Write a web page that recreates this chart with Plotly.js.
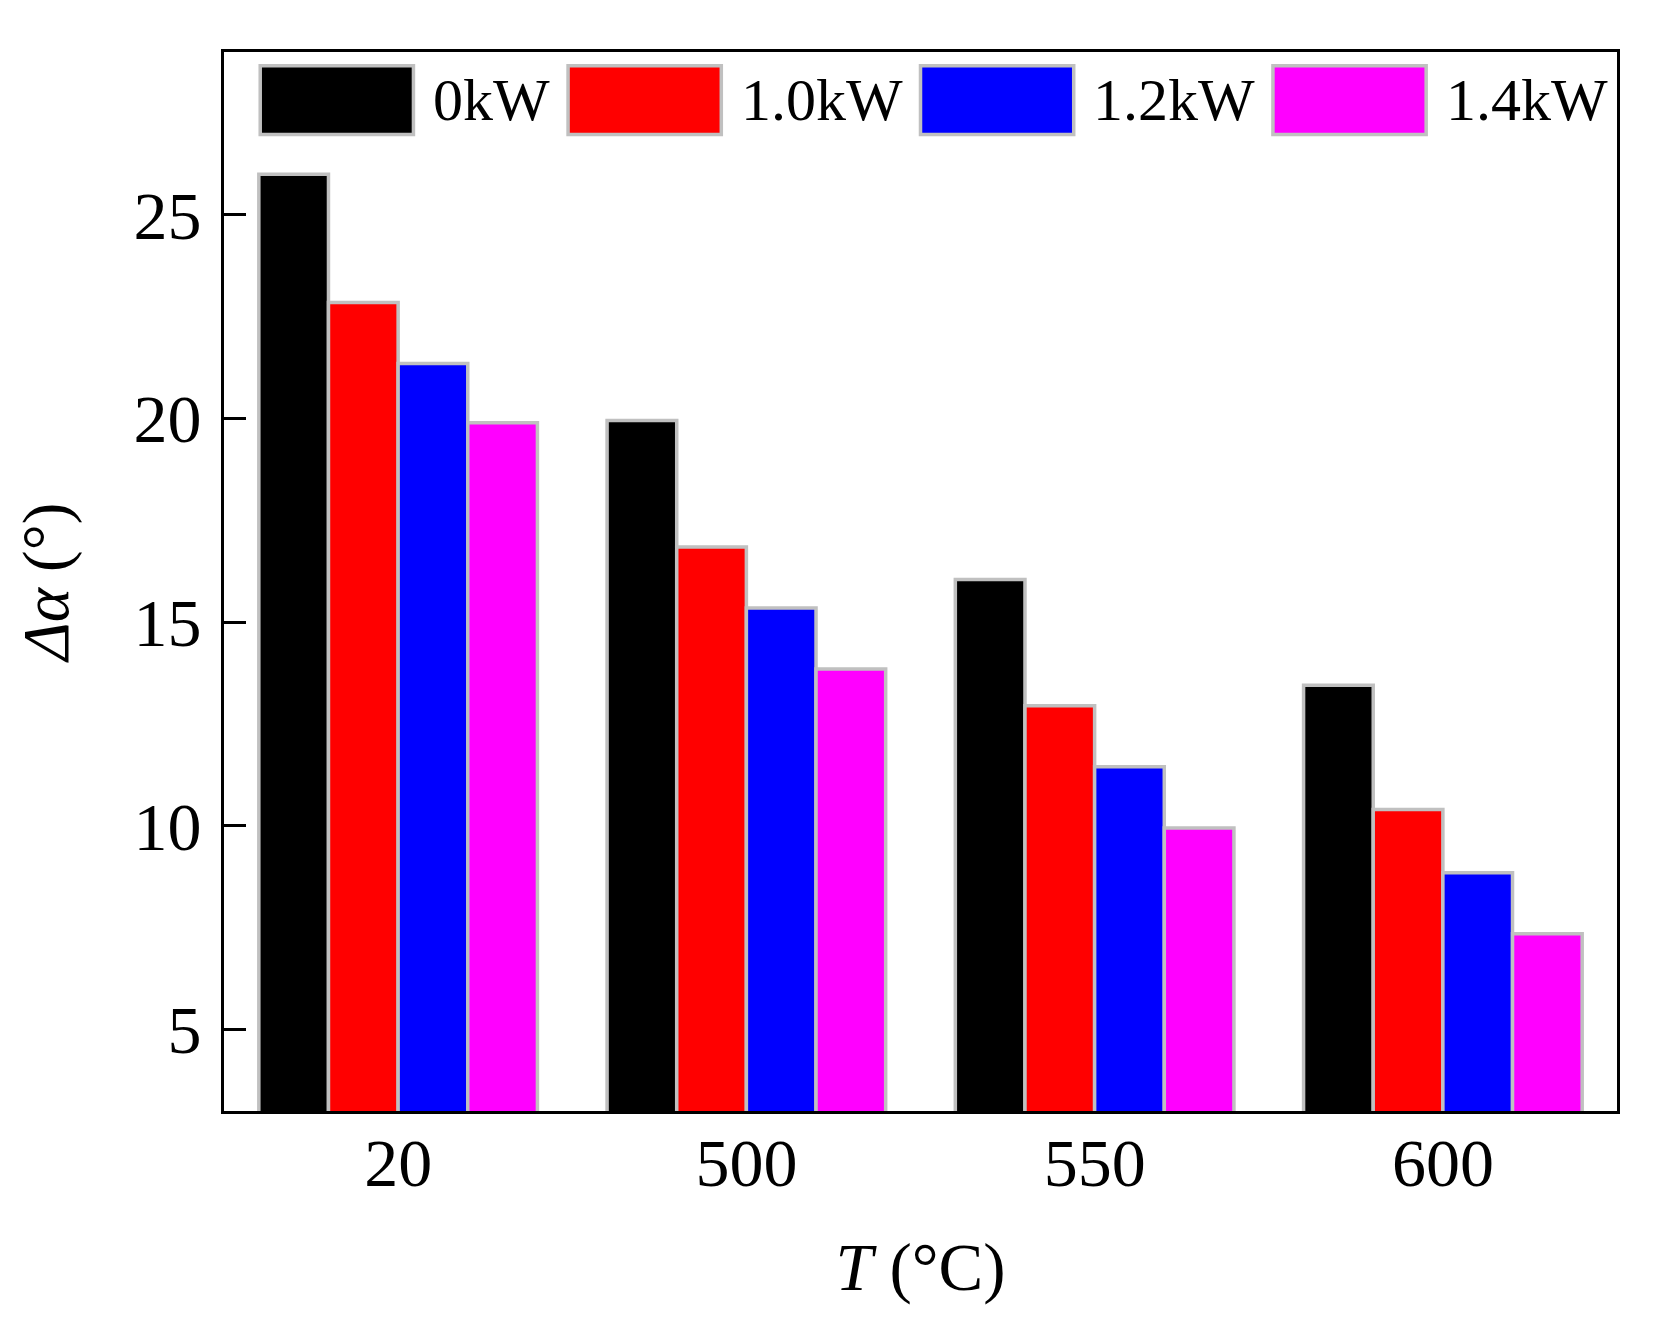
<!DOCTYPE html>
<html>
<head>
<meta charset="utf-8">
<script src="https://cdn.plot.ly/plotly-3.0.1.min.js"></script>
<style>
  body { margin: 0; background: #fff; }
  #chart { width: 1665px; height: 1323px; }
</style>
</head>
<body>
<div id="chart"></div>
<script>
// temperatures (x categories)
const temps = ["20", "500", "550", "600"];

// laser power series
const powers = ["0kW", "1.0kW", "1.2kW", "1.4kW"];
const colors = ["#000000", "#ff0000", "#0000ff", "#ff00ff"];

// Δα values per power, one value per temperature
const p0 = [26.0, 19.95, 16.05, 13.45];
const p10 = [22.85, 16.85, 12.95, 10.4];
const p12 = [21.35, 15.35, 11.45, 8.85];
const p14 = [19.9, 13.85, 9.95, 7.35];
const series = [p0, p10, p12, p14];

const yTicks = [5, 10, 15, 20, 25];

const FONT = "Liberation Serif, Times New Roman, serif";
const EDGE = "#c0c0c0";

const traces = series.map((vals, i) => ({
  type: "bar",
  name: powers[i],
  x: temps,
  y: vals,
  base: 0,
  marker: { color: colors[i], line: { color: EDGE, width: 3.5 } },
  showlegend: false
}));

// hand-made legend: wide swatches like the original figure
// (left edge of each swatch in paper units, plus its size)
const legX = [0.026, 0.247, 0.500, 0.753];
const swW = 0.110, swTop = 0.987, swBot = 0.922;
const shapes = [];
const annotations = [];
powers.forEach((p, i) => {
  shapes.push({
    type: "rect", xref: "paper", yref: "paper",
    x0: legX[i], x1: legX[i] + swW, y0: swBot, y1: swTop,
    fillcolor: colors[i], line: { color: EDGE, width: 3.5 }
  });
  annotations.push({
    xref: "paper", yref: "paper",
    x: legX[i] + swW + 0.0125, y: (swTop + swBot) / 2,
    xanchor: "left", yanchor: "middle", showarrow: false,
    text: p, font: { family: FONT, size: 60, color: "#000" }
  });
});

const layout = {
  width: 1665,
  height: 1323,
  margin: { l: 224, r: 48, t: 52, b: 212 },
  paper_bgcolor: "#fff",
  plot_bgcolor: "#fff",
  font: { family: FONT, size: 66, color: "#000" },
  barmode: "group",
  bargap: 0.2,
  bargroupgap: 0,
  xaxis: {
    type: "category",
    showline: true, mirror: true, linecolor: "#000", linewidth: 3,
    ticks: "", showgrid: false, zeroline: false,
    ticklabelstandoff: -10,
    tickfont: { family: FONT, size: 68 },
    title: { text: "<i>T</i> (°C)", font: { family: FONT, size: 67 }, standoff: 44 }
  },
  yaxis: {
    range: [3, 29],
    tickvals: yTicks,
    showline: true, mirror: true, linecolor: "#000", linewidth: 3,
    ticks: "inside", ticklen: 22, tickwidth: 3, tickcolor: "#000",
    showgrid: false, zeroline: false,
    ticklabelstandoff: 6,
    tickfont: { family: FONT, size: 68 },
    title: { text: "<i>Δα</i> (°)", font: { family: FONT, size: 65 }, standoff: 44 }
  },
  shapes: shapes,
  annotations: annotations
};

Plotly.newPlot("chart", traces, layout, { staticPlot: true });
</script>
</body>
</html>
